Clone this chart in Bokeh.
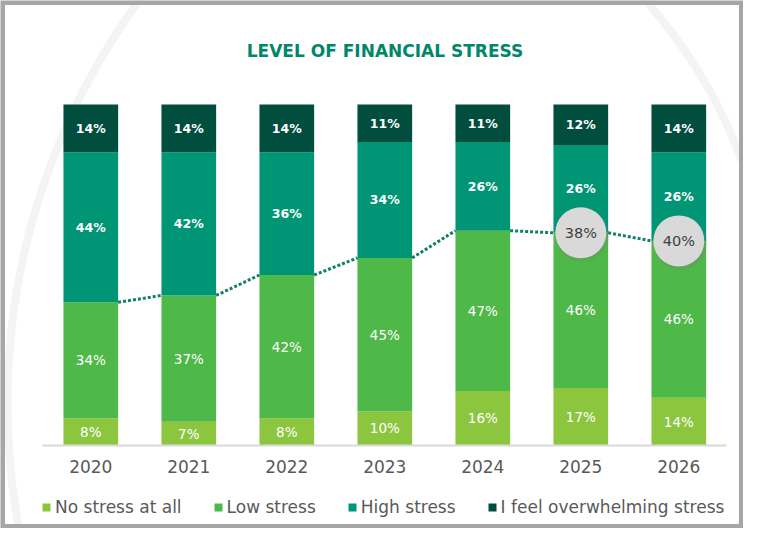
import numpy as np
from bokeh.plotting import figure
from bokeh.models import (ColumnDataSource, Range1d, FixedTicker, LinearAxis,
                          Legend, LegendItem, Label)
from bokeh.embed import file_html
from bokeh.resources import INLINE

# ---------------- data ----------------
years = ["2020", "2021", "2022", "2023", "2024", "2025", "2026"]
no_stress = [8, 7, 8, 10, 16, 17, 14]
low_stress = [34, 37, 42, 45, 47, 46, 46]
high_stress = [44, 42, 36, 34, 26, 26, 26]
overwhelming = [14, 14, 14, 11, 11, 12, 14]
series_names = ["No stress at all", "Low stress", "High stress", "I feel overwhelming stress"]
series_colors = ["#8cc63f", "#4eb848", "#009575", "#014d3e"]
circled_years = ["2025", "2026"]
title_text = "LEVEL OF FINANCIAL STRESS"

# ---------------- layout constants (pixels) ----------------
W, H = 743, 528
PX_X = 98.0      # pixels per category step
PX_Y = 3.41      # pixels per percent
X0 = 90.3        # pixel x of first bar centre
Y0 = 445.0       # pixel y (from top) of baseline
BAR_W = 0.558
FONT = "DejaVu Sans"
GREY_TXT = "#595959"


def px_x(px):
    return (px - X0) / PX_X


def px_y(py):
    return (Y0 - py) / PX_Y


xr = Range1d(px_x(0), px_x(W))
yr = Range1d(px_y(H), px_y(0))
p = figure(width=W, height=H, x_range=xr, y_range=yr,
           output_backend="svg", toolbar_location=None, min_border=0,
           x_axis_type=None, y_axis_type=None, title=None)
p.background_fill_color = "white"
p.border_fill_color = "white"
p.outline_line_color = None

# faint decorative rings in the background
p.circle(x=[px_x(689)], y=[px_y(403)], radius=682 / PX_X,
         fill_color=None, line_color="#f4f4f4", line_width=8)
p.circle(x=[px_x(261)], y=[px_y(340)], radius=513 / PX_X,
         fill_color=None, line_color="#f4f4f4", line_width=8)

# grey frame round the picture
p.quad(left=[xr.start], right=[xr.end], bottom=[yr.start], top=[yr.end],
       fill_color=None, line_color="#a6a6a6", line_width=9)

# ---------------- stacked bars (100% stacked) ----------------
raw = np.array([no_stress, low_stress, high_stress, overwhelming], dtype=float)
totals = raw.sum(axis=0)
norm = raw / totals * 100.0
keys = ["no", "low", "high", "over"]
xs = np.arange(len(years), dtype=float)
data = {"x": xs}
for k, row in zip(keys, norm):
    data[k] = row
src = ColumnDataSource(data)

renderers = p.vbar_stack(keys, x="x", width=BAR_W, color=series_colors,
                         line_color=None, source=src)

# segment labels
cum = np.cumsum(norm, axis=0)
bottoms = cum - norm
mids = bottoms + norm / 2
for i, (row_raw, row_mid) in enumerate(zip(raw, mids)):
    bold = i >= 2
    p.text(x=xs, y=row_mid, text=[f"{int(v)}%" for v in row_raw],
           text_align="center", text_baseline="middle",
           text_color="white", text_font={"value": FONT},
           text_font_size="12.5px" if bold else "13.5px",
           text_font_style="bold" if bold else "normal")

# ---------------- series line (top of "low stress") ----------------
boundary = cum[1]
half = BAR_W / 2
p.segment(x0=xs[:-1] + half, y0=boundary[:-1], x1=xs[1:] - half, y1=boundary[1:],
          line_color="#127f68", line_width=3, line_dash="3 2")

# ---------------- circled totals of high stress ----------------
idx = [years.index(y) for y in circled_years]
cx = xs[idx]
cy = boundary[idx]
circ_vals = [f"{int(high_stress[i] + overwhelming[i])}%" for i in idx]
p.scatter(x=cx + 1.5 / PX_X, y=cy - 2.5 / PX_Y, size=54, marker="circle",
          fill_color="#808080", fill_alpha=0.15, line_color=None)
p.scatter(x=cx + 1.0 / PX_X, y=cy - 1.5 / PX_Y, size=52, marker="circle",
          fill_color="#808080", fill_alpha=0.22, line_color=None)
p.scatter(x=cx, y=cy, size=51, marker="circle",
          fill_color="#d9d9d9", line_color=None)
p.text(x=cx, y=cy, text=circ_vals, text_align="center", text_baseline="middle",
       text_color="#3f3f3f", text_font={"value": FONT}, text_font_size="14.5px")

# ---------------- x axis ----------------
xaxis = LinearAxis(fixed_location=0,
                   ticker=FixedTicker(ticks=list(range(len(years)))),
                   major_label_overrides={i: y for i, y in enumerate(years)},
                   bounds=(xs[0] - 0.49, xs[-1] + 0.49))
xaxis.axis_line_color = "#d9d9d9"
xaxis.axis_line_width = 2
xaxis.major_tick_line_color = None
xaxis.minor_tick_line_color = None
xaxis.major_label_standoff = 8
xaxis.major_label_text_font = FONT
xaxis.major_label_text_font_size = "17px"
xaxis.major_label_text_color = GREY_TXT
p.add_layout(xaxis, "below")

# ---------------- legend ----------------
legend = Legend(items=[LegendItem(label=n, renderers=[r])
                       for n, r in zip(series_names, renderers)],
                orientation="horizontal", location=(41, 11),
                glyph_width=10, glyph_height=10, label_standoff=4, spacing=31,
                padding=0, margin=0, border_line_color=None,
                background_fill_alpha=0,
                label_text_font=FONT, label_text_font_size="17px",
                label_text_color=GREY_TXT)
p.add_layout(legend)

# ---------------- title ----------------
p.add_layout(Label(x=384.5, y=H - 50, x_units="screen", y_units="screen",
                   text=title_text, text_align="center", text_baseline="middle",
                   text_font=FONT, text_font_size="17px", text_font_style="bold",
                   text_color="#00876a"))

open("out.html", "w").write(file_html(p, INLINE))
